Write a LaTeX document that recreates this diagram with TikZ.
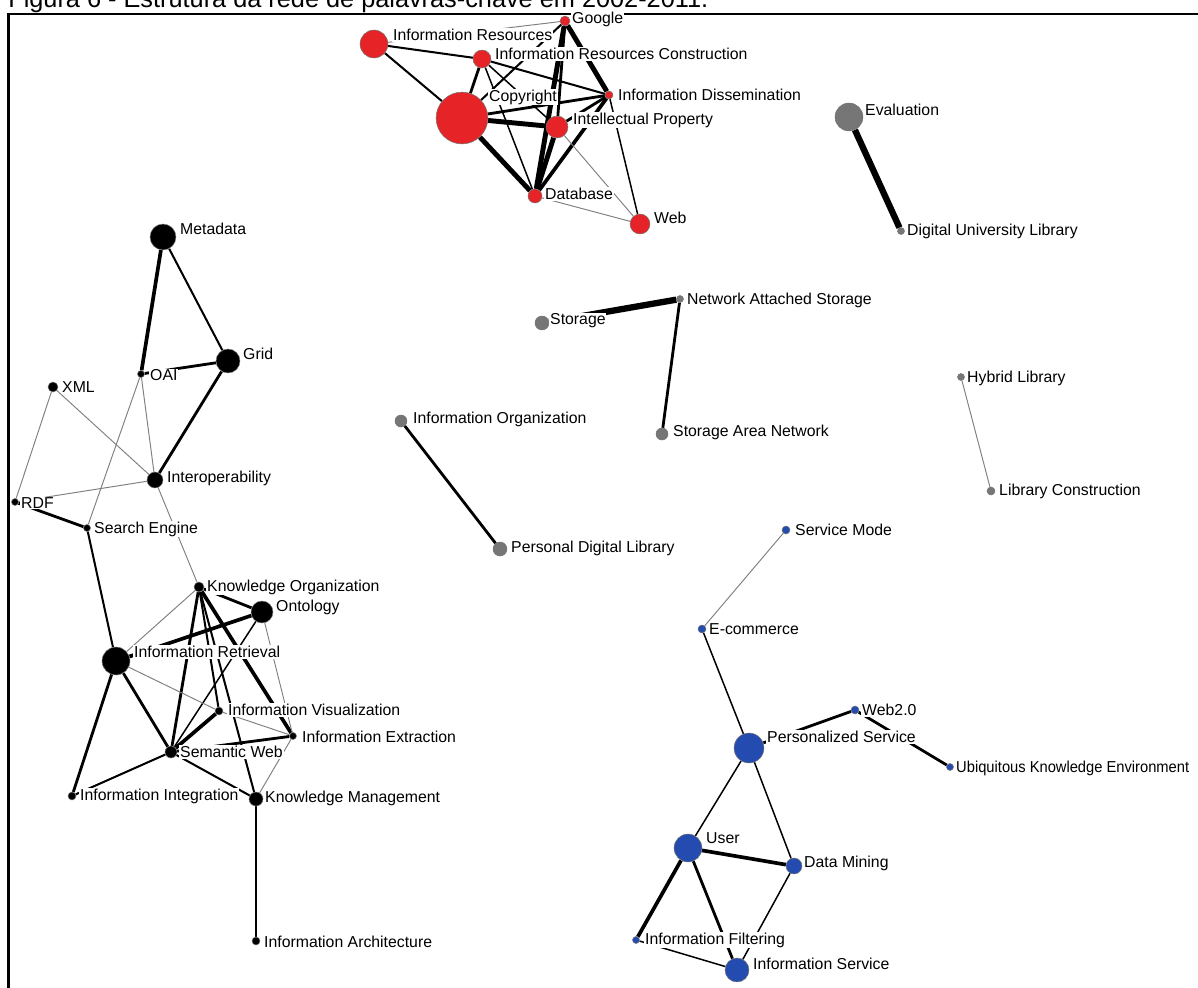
\documentclass[tikz,border=0pt]{standalone}
\usepackage{fontspec}
\setmainfont{Liberation Sans}
\usetikzlibrary{backgrounds}
\definecolor{netred}{RGB}{230,36,40}
\definecolor{netblue}{RGB}{36,76,176}
\definecolor{netgray}{RGB}{118,118,118}
\newcommand\netfont{\fontsize{9}{10}\selectfont}
\tikzset{
  kwdot/.style={circle, inner sep=0pt, draw=black!55, line width=0.3pt, minimum size=#1*1.134pt},
  rdot/.style={kwdot=#1, fill=netred},
  bdot/.style={kwdot=#1, fill=black},
  gdot/.style={kwdot=#1, fill=netgray},
  udot/.style={kwdot=#1, fill=netblue},
  kwlab/.style={anchor=west, fill=white, inner sep=0.5pt, font=\netfont},
  tieA/.style={draw=black!50, line width=0.55pt},
  tieB/.style={draw=black, line width=0.85pt},
  tieC/.style={draw=black, line width=1.15pt},
  tieD/.style={draw=black, line width=1.6pt},
  tieE/.style={draw=black, line width=2.1pt},
  tieF/.style={draw=black, line width=2.8pt},
  tieG/.style={draw=black, line width=3.6pt}
}
\begin{document}
\begin{tikzpicture}[x=0.02cm, y=-0.02cm]
        \useasboundingbox (0,0) rectangle (1198,988);
        % titre
        \node[anchor=base west, inner sep=0pt, font=\fontsize{14.4}{17}\selectfont] (title) at (8,7.3) {Figura 6 - Estrutura da rede de palavras-chave em 2002-2011.};
        \draw[line width=1.5pt] (8.7,1000) -- (8.7,14) -- (1210,14);

        % red group
        \node[rdot=14] (ires) at (374,44) {};
        \node[kwlab] (ires-l) at (392,35) {Information Resources};
        \node[rdot=5] (goog) at (565,21) {};
        \node[kwlab] (goog-l) at (571,19) {Google};
        \node[rdot=9] (irc) at (482,59) {};
        \node[kwlab] (irc-l) at (494,54) {Information Resources Construction};
        \node[rdot=26] (copy) at (462,118) {};
        \node[kwlab] (copy-l) at (488,97) {Copyright};
        \node[rdot=4] (diss) at (609,95) {};
        \node[kwlab] (diss-l) at (617,95) {Information Dissemination};
        \node[rdot=11] (prop) at (557,127) {};
        \node[kwlab] (prop-l) at (572,120) {Intellectual Property};
        \node[rdot=7] (db) at (535,196) {};
        \node[kwlab] (db-l) at (544,194) {Database};
        \node[rdot=10] (web) at (640,224) {};
        \node[kwlab] (web-l) at (653,218) {Web};

        % black group
        \node[bdot=13] (meta) at (163,237) {};
        \node[kwlab] (meta-l) at (179,229) {Metadata};
        \node[bdot=12] (grid) at (228,361) {};
        \node[kwlab] (grid-l) at (242,354) {Grid};
        \node[bdot=3.5] (oai) at (141,374) {};
        \node[kwlab] (oai-l) at (149,375) {OAI};
        \node[bdot=5] (xml) at (53,387) {};
        \node[kwlab] (xml-l) at (61,387) {XML};
        \node[bdot=8] (inter) at (155,480) {};
        \node[kwlab] (inter-l) at (166,478) {Interoperability};
        \node[bdot=3.5] (rdf) at (15,502) {};
        \node[kwlab] (rdf-l) at (20,503) {RDF};
        \node[bdot=3.5] (seng) at (87,528) {};
        \node[kwlab] (seng-l) at (93,529) {Search Engine};
        \node[bdot=5] (kor) at (199,587) {};
        \node[kwlab] (kor-l) at (206,587) {Knowledge Organization};
        \node[bdot=11] (onto) at (262,612) {};
        \node[kwlab] (onto-l) at (275,607) {Ontology};
        \node[bdot=14] (iret) at (116,661) {};
        \node[kwlab] (iret-l) at (133,652) {Information Retrieval};
        \node[bdot=4] (ivis) at (219,711) {};
        \node[kwlab] (ivis-l) at (227,710) {Information Visualization};
        \node[bdot=3.5] (iext) at (293,736) {};
        \node[kwlab] (iext-l) at (301,737) {Information Extraction};
        \node[bdot=6] (sweb) at (171,752) {};
        \node[kwlab] (sweb-l) at (179,752) {Semantic Web};
        \node[bdot=4] (iint) at (72,796) {};
        \node[kwlab] (iint-l) at (79,796) {Information Integration};
        \node[bdot=7] (kman) at (256,799) {};
        \node[kwlab] (kman-l) at (264,798) {Knowledge Management};
        \node[bdot=4] (iarc) at (256,941) {};
        \node[kwlab] (iarc-l) at (263,942) {Information Architecture};

        % grey pairs
        \node[gdot=14] (eval) at (849,117) {};
        \node[kwlab] (eval-l) at (864,110) {Evaluation};
        \node[gdot=3.5] (dul) at (901,231) {};
        \node[kwlab] (dul-l) at (906,231) {Digital University Library};
        \node[gdot=7] (stor) at (542,323) {};
        \node[kwlab] (stor-l) at (549,321) {Storage};
        \node[gdot=3.5] (nas) at (680,299) {};
        \node[kwlab] (nas-l) at (686,300) {Network Attached Storage};
        \node[gdot=6] (san) at (662,434) {};
        \node[kwlab] (san-l) at (672,432) {Storage Area Network};
        \node[gdot=6] (iorg) at (401,421) {};
        \node[kwlab] (iorg-l) at (412,419) {Information Organization};
        \node[gdot=7] (pdl) at (500,549) {};
        \node[kwlab] (pdl-l) at (510,548) {Personal Digital Library};
        \node[gdot=3.5] (hlib) at (961,377) {};
        \node[kwlab] (hlib-l) at (966,378) {Hybrid Library};
        \node[gdot=4] (lcon) at (991,491) {};
        \node[kwlab] (lcon-l) at (998,491) {Library Construction};

        % blue group
        \node[udot=4] (smode) at (786,530) {};
        \node[kwlab] (smode-l) at (794,530) {Service Mode};
        \node[udot=4] (ecom) at (702,629) {};
        \node[kwlab] (ecom-l) at (708,629) {E-commerce};
        \node[udot=4] (webtwo) at (855,710) {};
        \node[kwlab] (webtwo-l) at (861,710) {Web2.0};
        \node[udot=15] (pserv) at (749,748) {};
        \node[kwlab] (pserv-l) at (766,737) {Personalized Service};
        \node[udot=3.5] (uke) at (950,767) {};
        \node[kwlab] (uke-l) at (955,768) {\scalebox{0.93}[1]{Ubiquitous Knowledge Environment}};
        \node[udot=14] (user) at (688,848) {};
        \node[kwlab] (user-l) at (705,838) {User};
        \node[udot=8] (dmin) at (794,866) {};
        \node[kwlab] (dmin-l) at (803,863) {Data Mining};
        \node[udot=3.5] (ifil) at (636,940) {};
        \node[kwlab] (ifil-l) at (644,940) {Information Filtering};
        \node[udot=12] (iserv) at (737,970) {};
        \node[kwlab] (iserv-l) at (752,964) {Information Service};

        % liens
        \begin{scope}[on background layer]
        \draw[tieC] (ires) -- (irc);
        \draw[tieC] (ires) -- (copy);
        \draw[tieA] (ires) -- (goog);
        \draw[tieD] (irc) -- (copy);
        \draw[tieC] (irc) -- (diss);
        \draw[tieB] (irc) -- (prop);
        \draw[tieB] (irc) -- (db);
        \draw[tieC] (goog) -- (copy);
        \draw[tieF] (goog) -- (diss);
        \draw[tieF] (goog) -- (db);
        \draw[tieD] (goog) -- (prop);
        \draw[tieF] (copy) -- (prop);
        \draw[tieD] (copy) -- (diss);
        \draw[tieF] (copy) -- (db);
        \draw[tieF] (prop) -- (db);
        \draw[tieE] (diss) -- (db);
        \draw[tieD] (diss) -- (prop);
        \draw[tieA] (prop) -- (web);
        \draw[tieA] (db) -- (web);
        \draw[tieB] (diss) -- (web);

        \draw[tieE] (meta) -- (oai);
        \draw[tieC] (meta) -- (grid);
        \draw[tieD] (grid) -- (oai);
        \draw[tieD] (grid) -- (inter);
        \draw[tieA] (oai) -- (inter);
        \draw[tieA] (oai) -- (seng);
        \draw[tieA] (xml) -- (rdf);
        \draw[tieA] (xml) -- (inter);
        \draw[tieA] (rdf) -- (inter);
        \draw[tieD] (rdf) -- (seng);
        \draw[tieC] (seng) -- (iret);
        \draw[tieA] (inter) -- (kor);
        \draw[tieA] (kor) -- (iret);
        \draw[tieD] (kor) -- (onto);
        \draw[tieD] (kor) -- (sweb);
        \draw[tieC] (kor) -- (ivis);
        \draw[tieE] (kor) -- (iext);
        \draw[tieC] (kor) -- (kman);
        \draw[tieE] (onto) -- (iret);
        \draw[tieB] (onto) -- (sweb);
        \draw[tieA] (onto) -- (iext);
        \draw[tieA] (iret) -- (ivis);
        \draw[tieD] (iret) -- (sweb);
        \draw[tieD] (iret) -- (iint);
        \draw[tieE] (sweb) -- (ivis);
        \draw[tieC] (sweb) -- (iint);
        \draw[tieC] (sweb) -- (kman);
        \draw[tieD] (sweb) -- (iext);
        \draw[tieA] (ivis) -- (iext);
        \draw[tieA] (iext) -- (kman);
        \draw[tieC] (kman) -- (iarc);

        \draw[tieG] (eval) -- (dul);
        \draw[tieG] (stor) -- (nas);
        \draw[tieD] (nas) -- (san);
        \draw[tieD] (iorg) -- (pdl);
        \draw[tieA] (hlib) -- (lcon);

        \draw[tieA] (smode) -- (ecom);
        \draw[tieB] (ecom) -- (pserv);
        \draw[tieD] (pserv) -- (webtwo);
        \draw[tieD] (webtwo) -- (uke);
        \draw[tieB] (pserv) -- (user);
        \draw[tieB] (pserv) -- (dmin);
        \draw[tieE] (user) -- (dmin);
        \draw[tieE] (user) -- (ifil);
        \draw[tieD] (user) -- (iserv);
        \draw[tieB] (dmin) -- (iserv);
        \draw[tieB] (ifil) -- (iserv);
        \end{scope}
\end{tikzpicture}
\end{document}
